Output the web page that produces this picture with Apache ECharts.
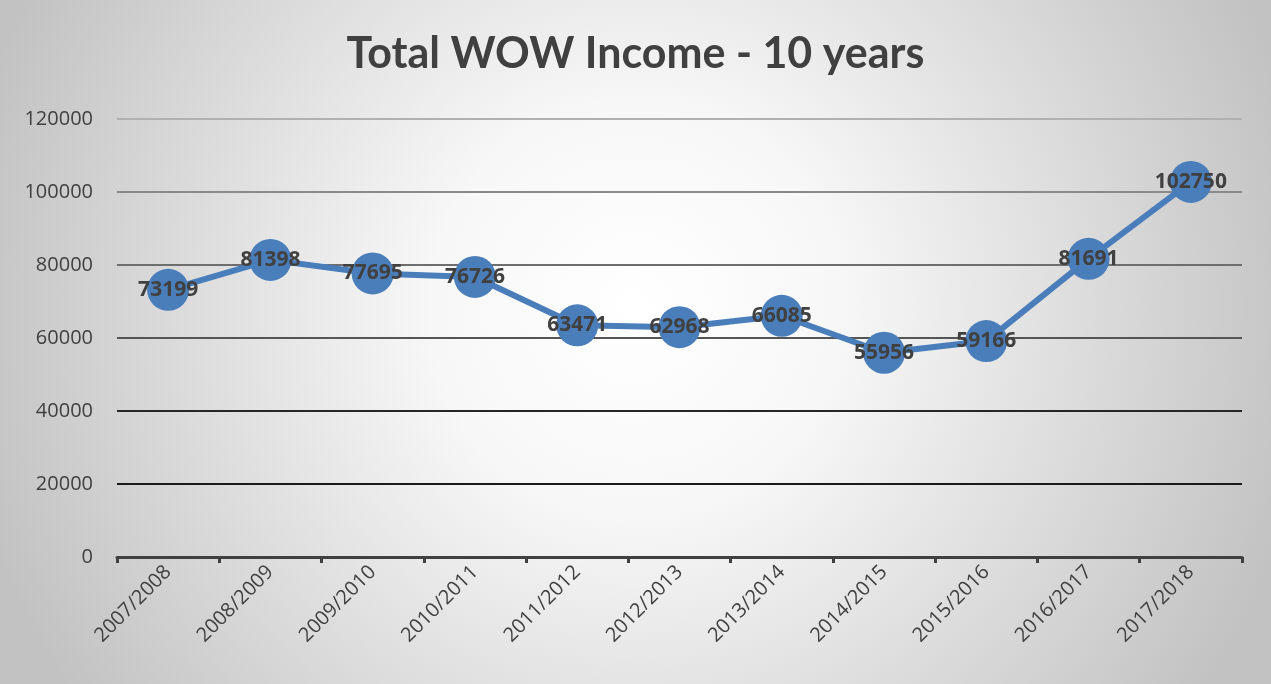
<!DOCTYPE html>
<html>
<head>
    <meta charset="utf-8">
    <title>Total WOW Income - 10 years</title>
    <script src="https://cdn.jsdelivr.net/npm/echarts@6/dist/echarts.min.js"></script>
    <style>
        html, body { margin: 0; padding: 0; background: #fff; }
        #chart { width: 1271px; height: 684px; }
    </style>
</head>
<body>
<div id="chart"></div>
<script type="text/javascript">
    // 数据
    var years = ['2007/2008', '2008/2009', '2009/2010', '2010/2011', '2011/2012', '2012/2013',
        '2013/2014', '2014/2015', '2015/2016', '2016/2017', '2017/2018'];
    var income = [73199, 81398, 77695, 76726, 63471, 62968, 66085, 55956, 59166, 81691, 102750];
    var yTicks = [0, 20000, 40000, 60000, 80000, 100000, 120000];

    var myChart = echarts.init(document.getElementById('chart'));
    myChart.setOption({
        backgroundColor: {
            type: 'radial', x: 0.5, y: 0.45, r: 1.0,
            colorStops: [
                { offset: 0, color: '#ffffff' },
                { offset: 0.3, color: '#f7f7f7' },
                { offset: 1, color: '#c2c2c2' }
            ]
        },
        title: {
            text: 'Total WOW Income - 10 years',
            left: 'center',
            top: 28,
            textStyle: { fontFamily: 'Lato', fontSize: 43, fontWeight: 'bold', color: '#404040' }
        },
        grid: { left: 117, right: 29, top: 119, bottom: 127, containLabel: false },
        xAxis: {
            type: 'category',
            data: years,
            boundaryGap: true,
            axisLine: { lineStyle: { color: '#404040', width: 3 } },
            axisTick: { show: true, length: 6, lineStyle: { color: '#404040', width: 3 } },
            axisLabel: {
                rotate: 45, margin: 12, interval: 0,
                fontFamily: 'Open Sans', fontSize: 20, color: '#404040'
            }
        },
        yAxis: {
            type: 'value',
            min: yTicks[0],
            max: yTicks[yTicks.length - 1],
            interval: 20000,
            axisLine: { show: false },
            axisTick: { show: false },
            axisLabel: {
                margin: 24, fontFamily: 'Open Sans', fontSize: 20, color: '#404040',
                formatter: function (v) { return String(v); }
            },
            splitLine: {
                lineStyle: {
                    width: 2,
                    color: ['#404040', '#1a1a1a', '#262626', '#555555', '#6e6e6e', '#8a8a8a', '#b0b0b0']
                }
            }
        },
        series: [{
            type: 'line',
            data: income,
            symbol: 'circle',
            symbolSize: 42,
            lineStyle: { color: '#4a7ebb', width: 6 },
            itemStyle: { color: '#4a7ebb' },
            label: {
                show: true, position: 'inside',
                fontFamily: 'Open Sans', fontSize: 21, fontWeight: 'bold', color: '#404040'
            },
            z: 3
        }]
    });
</script>
</body>
</html>
